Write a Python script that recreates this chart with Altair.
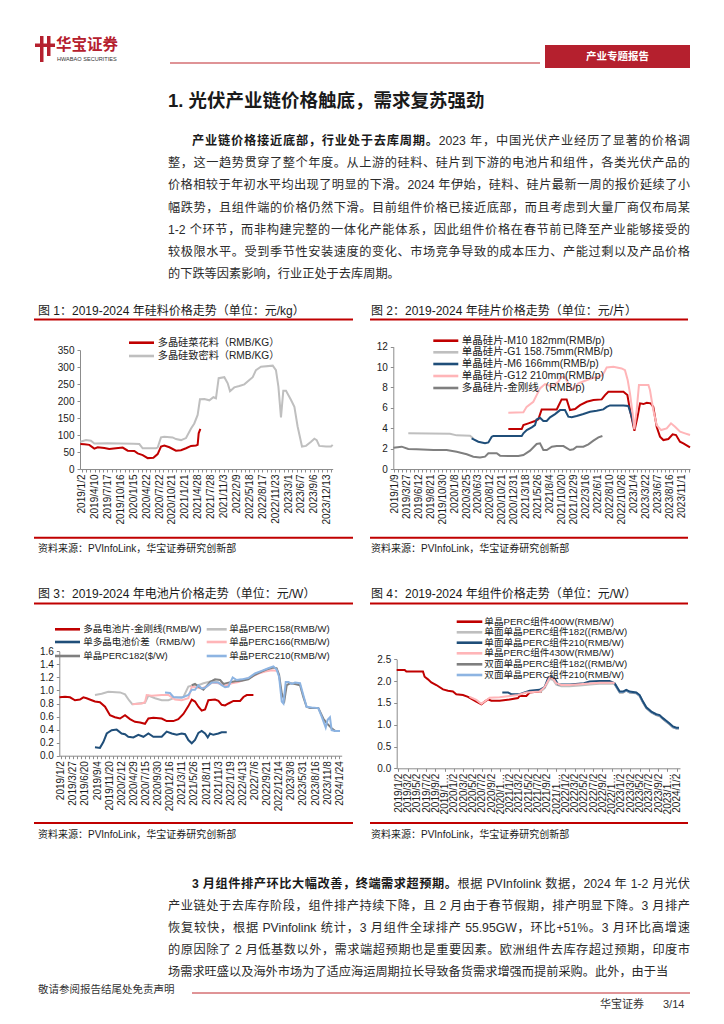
import json
import math
import pandas as pd
import altair as alt

FONT = "Liberation Sans, Noto Sans CJK SC"
AXFONT = "Liberation Sans"
RED = "#C00000"
LGRAY = "#BFBFBF"
DBLUE = "#1F4E79"
PINK = "#FFB5B8"
DGRAY = "#7F7F7F"
LBLUE = "#8DB4E2"
AXC = "#8C8C8C"
INK = "#1A1A1A"
BODY = "#2B2B2B"
BRAND = "#B5202E"

# ---------------- chart 1 : polysilicon ----------------
c1_labels = ["2019/1/2", "2019/4/10", "2019/7/17", "2019/10/16", "2020/1/15", "2020/4/22",
             "2020/7/22", "2020/10/21", "2021/1/21", "2021/4/28", "2021/7/28", "2021/11/3",
             "2022/2/9", "2022/5/18", "2022/8/17", "2022/11/23", "2023/3/1", "2023/6/7",
             "2023/9/6", "2023/12/13"]
c1_cauli_x = [-0.1, 0.21, 0.59, 0.98, 1.24, 1.76, 2.14, 2.66, 3.18, 3.57, 4.08, 4.34, 4.73, 5.12,
              5.56, 5.89, 6.15, 6.41, 6.80, 7.31, 7.70, 8.09, 8.48, 8.86, 8.99, 9.07, 9.20]
c1_cauli_y = [73.5, 72.5, 71, 60, 64, 62, 59, 61, 63, 54, 53, 46, 41, 32,
              33, 44, 66, 69, 64, 54, 55, 61, 68, 69, 71, 105, 118]
c1_dense_x = [-0.1, 0.34, 0.72, 0.98, 2.0, 3.0, 4.0, 4.47, 4.73, 5.12, 5.76, 5.89, 6.15, 6.41,
              7.05, 7.31, 7.70, 8.09, 8.48, 8.73, 8.99, 9.17, 9.51, 9.90, 10.21, 10.41, 10.62,
              11.06, 11.32, 11.50, 11.83, 12.22, 12.61, 13.00, 13.26, 13.51, 13.90, 14.81, 15.06,
              15.25, 15.45, 15.63, 15.84, 16.23, 16.49, 16.74, 17.08, 17.39, 17.78, 18.04, 18.22,
              18.42, 18.94, 19.33, 19.46]
c1_dense_y = [80, 85, 83, 75, 76, 75, 74.5, 73.5, 61, 61, 61, 63, 93, 95,
              93, 88, 85, 91, 119, 134, 159, 205, 206, 202, 211, 208, 267,
              270, 252, 229, 240, 244, 249, 262, 270, 291, 301, 304, 291,
              242, 152, 230, 230, 203, 183, 125, 66, 68, 80, 89, 85,
              68, 66, 66, 71]

# ---------------- chart 2 : wafers ----------------
c2_labels = ["2019/1/9", "2019/3/27", "2019/6/12", "2019/8/21", "2019/10/30", "2020/1/8",
             "2020/3/25", "2020/6/3", "2020/8/12", "2020/10/21", "2020/12/31", "2021/3/18",
             "2021/5/26", "2021/8/4", "2021/10/20", "2021/12/29", "2022/3/16", "2022/6/1",
             "2022/8/10", "2022/10/26", "2023/1/4", "2023/3/22", "2023/6/7", "2023/8/16",
             "2023/11/1"]
c2_m10_x = [9.54, 10.66, 10.80, 11.22, 11.77, 12.05, 12.33, 13.59, 13.73, 14.00, 14.42, 14.70,
            15.12, 15.54, 16.10, 16.66, 17.35, 17.63, 17.91, 19.17, 19.50, 19.72, 20.09, 20.34,
            20.56, 20.84, 21.12, 21.45, 21.67, 21.95, 22.23, 22.51, 22.93, 23.29, 23.57, 23.90,
            24.18, 24.74]
c2_m10_y = [3.92, 3.92, 4.31, 4.48, 4.71, 4.87, 5.85, 5.85, 6.18, 6.83, 6.83, 5.78,
            5.88, 6.27, 6.60, 6.76, 6.83, 7.25, 7.58, 7.58, 7.25, 5.78, 3.76, 5.07,
            6.44, 6.37, 6.50, 6.44, 6.10, 4.15, 3.17, 2.84, 2.94, 3.40, 3.33, 2.68,
            2.52, 2.12]
c2_g1_x = [1.17, 4.66, 5.22, 6.34, 6.61]
c2_g1_y = [3.50, 3.46, 3.30, 3.27, 3.00]
c2_m6_x = [6.47, 7.03, 7.59, 7.87, 8.15, 8.29, 10.66, 10.80, 11.08, 11.50, 11.77, 11.91,
           12.19, 12.47, 12.75, 13.03, 13.45, 13.87, 14.28, 14.56, 14.84, 15.26, 15.82, 16.38,
           16.93, 17.49, 17.77, 18.05, 19.17, 19.58, 19.86, 20.09]
c2_m6_y = [3.00, 2.68, 2.52, 2.60, 3.17, 3.24, 3.24, 3.50, 3.82, 4.08, 4.31, 4.87,
           5.03, 4.71, 4.71, 5.07, 5.39, 5.78, 5.78, 5.13, 5.07, 5.20, 5.39, 5.62,
           5.72, 5.85, 6.10, 6.24, 6.24, 6.18, 5.13, 4.00]
c2_g12_x = [9.54, 10.80, 11.07, 11.63, 11.91, 12.19, 12.61, 13.03, 13.31, 13.72, 14.00, 14.28,
            14.56, 14.84, 15.12, 15.40, 15.96, 16.51, 17.07, 17.41, 17.63, 17.77, 18.33, 19.02,
            19.30, 19.53, 19.72, 19.94, 20.08, 20.28, 20.47, 21.26, 21.39, 21.67, 21.95, 22.32,
            22.79, 23.15, 23.49, 23.91, 24.32, 24.74]
c2_g12_y = [5.52, 5.56, 6.10, 6.60, 7.25, 7.90, 8.33, 8.14, 8.20, 8.56, 9.05, 9.00,
            8.40, 7.81, 8.00, 8.40, 8.66, 8.89, 9.05, 9.20, 9.64, 9.97, 10.03, 9.87,
            9.70, 8.70, 7.40, 5.46, 3.90, 5.80, 8.24, 8.24, 7.75, 5.78, 4.31, 3.82,
            3.99, 4.48, 4.15, 3.66, 3.50, 3.33]
c2_poly_x = [-0.08, 0.62, 1.17, 1.87, 3.27, 4.38, 5.22, 6.06, 6.61, 7.17, 7.59, 7.87, 8.57,
             8.85, 9.54, 10.38, 10.80, 11.36, 11.91, 12.19, 12.47, 12.76, 13.18, 13.59, 14.15,
             14.70, 14.98, 15.26, 15.82, 16.24, 16.66, 17.08, 17.41]
c2_poly_y = [2.09, 2.19, 1.96, 1.93, 1.86, 1.86, 1.70, 1.44, 1.21, 1.14, 1.21, 1.54, 1.54,
             1.31, 1.27, 1.27, 1.37, 1.80, 2.45, 2.52, 1.86, 1.86, 2.19, 2.25, 2.25,
             1.86, 1.93, 2.19, 2.19, 2.42, 2.78, 3.10, 3.24]

# ---------------- chart 3 : cells ----------------
c3_labels = ["2019/1/2", "2019/3/27", "2019/6/20", "2019/9/4", "2019/11/20", "2020/2/12",
             "2020/4/29", "2020/7/15", "2020/9/30", "2020/12/16", "2021/3/11", "2021/5/26",
             "2021/8/11", "2021/11/3", "2022/1/19", "2022/4/13", "2022/7/6", "2022/9/21",
             "2022/12/14", "2023/3/8", "2023/5/31", "2023/8/16", "2023/11/8", "2024/1/24"]
c3_poly_x = [-0.11, 0.36, 0.77, 1.18, 1.59, 1.87, 2.14, 2.56, 2.83, 3.24, 3.66, 4.07, 4.48,
             4.90, 5.31, 5.72, 6.13, 6.55, 6.96, 7.24, 7.65, 8.34, 8.75, 9.30, 9.71, 10.13,
             10.54, 10.82, 11.09, 11.37, 11.64, 11.92, 12.19, 12.74, 13.02, 13.29, 13.57,
             13.85, 14.26, 14.81, 15.09, 15.36, 15.91]
c3_poly_y = [0.895, 0.905, 0.895, 0.85, 0.86, 0.895, 0.88, 0.85, 0.83, 0.82, 0.75, 0.62, 0.59,
             0.57, 0.62, 0.56, 0.52, 0.51, 0.49, 0.57, 0.58, 0.57, 0.53, 0.53, 0.56, 0.64,
             0.76, 0.86, 0.83, 0.75, 0.69, 0.71, 0.85, 0.86, 0.84, 0.78, 0.77,
             0.80, 0.84, 0.84, 0.90, 0.93, 0.93]
c3_spread_x = [2.83, 3.24, 3.52, 3.80, 4.21, 4.62, 5.03, 5.31, 5.58, 6.00, 6.41, 6.83, 7.24,
               7.65, 8.34, 8.75, 9.17, 9.58, 9.99, 10.27, 10.54, 10.82, 11.09, 11.37, 11.64,
               11.92, 12.14, 12.33, 12.60, 13.02, 13.29, 13.71]
c3_spread_y = [0.13, 0.12, 0.21, 0.34, 0.39, 0.40, 0.34, 0.33, 0.29, 0.28, 0.32, 0.29, 0.34,
               0.29, 0.29, 0.37, 0.34, 0.32, 0.34, 0.33, 0.24, 0.19, 0.24, 0.35, 0.38,
               0.34, 0.28, 0.34, 0.32, 0.34, 0.36, 0.36]
c3_p158_x = [2.83, 3.38, 3.93, 4.90, 5.31, 5.64, 5.91, 6.41, 6.96, 7.24, 7.79, 8.34, 8.89,
             9.44, 10.13, 10.54, 10.95, 11.37, 11.78, 12.19, 12.60, 13.02, 13.57]
c3_p158_y = [0.93, 0.95, 0.98, 0.97, 0.94, 0.85, 0.79, 0.80, 0.81, 0.92, 0.88, 0.85, 0.85,
             0.89, 0.90, 1.06, 1.08, 1.08, 1.11, 1.13, 1.15, 1.12, 1.08]
c3_p166_x = [5.91, 6.69, 6.96, 7.10, 7.51, 8.34, 8.89, 9.44, 9.99, 10.54, 10.82, 11.64, 12.05,
             12.46, 13.02, 13.57, 14.12, 14.67, 15.22, 15.77, 16.32, 16.88, 17.43, 17.83]
c3_p166_y = [0.79, 0.80, 0.82, 0.93, 0.92, 0.93, 0.93, 0.86, 0.85, 0.88, 1.06, 1.03, 1.06,
             1.12, 1.11, 1.07, 1.11, 1.13, 1.17, 1.21, 1.26, 1.29, 1.31, 1.30]
c3_p182_x = [10.82, 11.09, 11.37, 11.78, 12.33, 12.74, 13.16, 13.44, 13.85, 14.40, 14.94, 15.49,
             16.04, 16.59, 17.14, 17.56, 17.83, 18.03, 18.25, 18.47, 18.66, 18.94, 19.35, 19.76,
             20.03, 20.30, 20.58, 21.27, 21.68, 21.96, 22.37, 22.65, 23.06]
c3_p182_y = [1.08, 1.10, 1.06, 1.01, 1.13, 1.17, 1.16, 1.10, 1.12, 1.14, 1.15, 1.17,
             1.24, 1.29, 1.33, 1.35, 1.34, 1.24, 0.96, 0.85, 1.08, 1.11, 1.10, 1.08,
             0.90, 0.75, 0.73, 0.73, 0.57, 0.50, 0.42, 0.38, 0.38]
c3_p210_x = [8.61, 9.02, 9.30, 9.99, 10.54, 10.82, 11.09, 11.37, 11.64, 11.92, 12.46, 13.02,
             13.29, 13.57, 13.85, 14.20, 14.53, 14.94, 15.49, 16.04, 16.59, 17.14, 17.56, 17.83,
             18.03, 18.25, 18.39, 18.58, 18.80, 19.08, 19.35, 19.76, 20.03, 20.30, 20.72, 21.27,
             21.55, 21.88, 22.04, 22.23, 22.37, 22.65, 23.06]
c3_p210_y = [0.97, 0.96, 0.90, 0.89, 0.93, 1.01, 1.01, 1.08, 1.03, 1.04, 1.12, 1.12,
             1.08, 1.05, 1.06, 1.20, 1.16, 1.17, 1.19, 1.26, 1.30, 1.34, 1.37, 1.32,
             1.21, 0.83, 0.80, 1.13, 1.13, 1.10, 1.12, 1.11, 0.93, 0.75, 0.74, 0.73,
             0.60, 0.43, 0.55, 0.59, 0.39, 0.38, 0.38]

# ---------------- chart 4 : modules ----------------
c4_labels = ["2019/1/2", "2019/3/2", "2019/5/2", "2019/7/2", "2019/9/2", "2019/1…",
             "2020/1/2", "2020/3/2", "2020/5/2", "2020/7/2", "2020/9/2", "2020/1…",
             "2021/1/2", "2021/3/2", "2021/5/2", "2021/7/2", "2021/9/2", "2021/1…",
             "2022/1/2", "2022/3/2", "2022/5/2", "2022/7/2", "2022/9/2", "2022/1…",
             "2023/1/2", "2023/3/2", "2023/5/2", "2023/7/2", "2023/9/2", "2023/1…",
             "2024/1/2"]
c4_400_x = [-0.17, 0.69, 0.87, 2.66, 2.84, 3.20, 3.56, 4.10, 4.82, 5.36, 5.89, 6.25, 6.97,
            7.51, 8.41, 8.95, 9.31, 9.67, 10.03, 10.92, 12.00, 12.90, 13.08, 13.80, 14.16,
            15.23, 15.48]
c4_400_y = [2.255, 2.255, 2.22, 2.22, 2.10, 2.04, 1.97, 1.91, 1.81, 1.78, 1.76, 1.70, 1.68,
            1.64, 1.53, 1.47, 1.53, 1.58, 1.55, 1.55, 1.58, 1.61, 1.66, 1.66, 1.74,
            1.76, 1.76]
c4_m182_x = [15.23, 15.77, 16.31, 16.67, 17.03, 17.57, 18.47, 19.54, 20.98, 21.70, 23.14, 23.50]
c4_m182_y = [1.74, 1.84, 2.05, 2.03, 1.92, 1.88, 1.88, 1.90, 1.93, 1.94, 1.94, 1.90]
c4_m210_x = [11.21, 11.82, 12.18, 13.08, 13.61, 14.16, 15.23, 15.77, 16.13, 16.48, 16.85, 17.21,
             18.50, 20.00, 20.62, 21.70, 22.78, 23.32, 23.86, 24.22, 24.57, 24.93, 25.65, 26.01,
             26.37, 26.73, 27.27, 27.80, 28.16, 28.52, 28.88, 29.24, 29.60, 29.96, 30.25]
c4_m210_y = [1.74, 1.74, 1.70, 1.70, 1.74, 1.78, 1.80, 1.86, 2.06, 2.10, 2.06, 1.93,
             1.92, 1.95, 1.99, 2.00, 2.00, 1.95, 1.76, 1.76, 1.80, 1.76, 1.74, 1.68,
             1.53, 1.40, 1.30, 1.24, 1.22, 1.15, 1.09, 1.03, 0.96, 0.93, 0.93]
c4_430_x = [7.69, 8.41, 8.95, 9.49, 9.85, 10.92, 12.00, 12.90, 13.80, 15.23, 15.77, 16.31,
            16.67, 17.03, 17.57, 18.47, 19.54, 20.98, 21.70, 23.14, 23.32]
c4_430_y = [1.64, 1.57, 1.48, 1.56, 1.62, 1.63, 1.66, 1.68, 1.74, 1.76, 1.86, 2.08,
            2.06, 1.95, 1.91, 1.91, 1.93, 1.95, 1.96, 1.96, 1.95]
c4_b182_x = [23.32, 23.86, 24.22, 24.57, 24.93, 25.65, 26.01, 26.37, 26.73, 27.27, 27.80,
             28.16, 28.52, 28.88, 29.24, 29.60, 29.96, 30.25]
c4_b182_y = [1.93, 1.74, 1.74, 1.78, 1.74, 1.72, 1.66, 1.51, 1.38, 1.28, 1.22,
             1.20, 1.13, 1.07, 1.01, 0.94, 0.91, 0.91]
c4_b210_x = [23.32, 23.86, 24.22, 24.57, 24.93, 25.65, 26.01, 26.37, 26.73, 27.27, 27.80,
             28.16, 28.52, 28.88, 29.24, 29.60, 29.96, 30.25]
c4_b210_y = [1.94, 1.75, 1.75, 1.79, 1.75, 1.73, 1.67, 1.52, 1.39, 1.29, 1.23,
             1.21, 1.14, 1.08, 1.02, 0.95, 0.92, 0.92]

# ---------------- page text ----------------
header_brand = "华宝证券"
header_brand_en = "HWABAO SECURITIES"
header_tag = "产业专题报告"
section_title = "1. 光伏产业链价格触底，需求复苏强劲"
para1_bold = "产业链价格接近底部，行业处于去库周期。"
para1_lines = [
    "2023 年，中国光伏产业经历了显著的价格调",
    "整，这一趋势贯穿了整个年度。从上游的硅料、硅片到下游的电池片和组件，各类光伏产品的",
    "价格相较于年初水平均出现了明显的下滑。2024 年伊始，硅料、硅片最新一周的报价延续了小",
    "幅跌势，且组件端的价格仍然下滑。目前组件价格已接近底部，而且考虑到大量厂商仅布局某",
    "1-2 个环节，而非构建完整的一体化产能体系，因此组件价格在春节前已降至产业能够接受的",
    "较极限水平。受到季节性安装速度的变化、市场竞争导致的成本压力、产能过剩以及产品价格",
    "的下跌等因素影响，行业正处于去库周期。",
]
para2_bold = "3 月组件排产环比大幅改善，终端需求超预期。"
para2_lines = [
    "根据 PVInfolink 数据，2024 年 1-2 月光伏",
    "产业链处于去库存阶段，组件排产持续下降，且 2 月由于春节假期，排产明显下降。3 月排产",
    "恢复较快，根据 PVinfolink 统计，3 月组件全球排产 55.95GW，环比+51%。3 月环比高增速",
    "的原因除了 2 月低基数以外，需求端超预期也是重要因素。欧洲组件去库存超过预期，印度市",
    "场需求旺盛以及海外市场为了适应海运周期拉长导致备货需求增强而提前采购。此外，由于当",
]
fig_titles = ["图 1：2019-2024 年硅料价格走势（单位：元/kg）",
              "图 2：2019-2024 年硅片价格走势（单位：元/片）",
              "图 3：2019-2024 年电池片价格走势（单位：元/W）",
              "图 4：2019-2024 年组件价格走势（单位：元/W）"]
source_note = "资料来源：PVInfoLink，华宝证券研究创新部"
footer_left = "敬请参阅报告结尾处免责声明"
footer_right = "华宝证券"
footer_page = "3/14"

# whole page is one view; local = page - 8
O = 8
W_VIEW = 708
H_VIEW = 996

dummy = pd.DataFrame({"k": [0]})


def text_at(s, x, y, size, weight="normal", color=INK, align="left", font=FONT):
    return alt.Chart(dummy).mark_text(text=s, align=align, baseline="middle", fontSize=size,
                                      fontWeight=weight, color=color, font=font).encode(
        x=alt.value(x - O), y=alt.value(y - O))


def rule_at(x1, x2, y, color=RED, width=1.0):
    return alt.Chart(dummy).mark_rule(color=color, strokeWidth=width).encode(
        x=alt.value(x1 - O), x2=alt.value(x2 - O), y=alt.value(y - O))


def rect_at(x1, x2, y1, y2, color):
    return alt.Chart(dummy).mark_rect(color=color).encode(
        x=alt.value(x1 - O), x2=alt.value(x2 - O), y=alt.value(y1 - O), y2=alt.value(y2 - O))


# ---- justified paragraph layout ----
ASCII_W = {" ": .278, ".": .278, ",": .278, "-": .333, "+": .584, "%": .889, "/": .278,
           "I": .278, "P": .667, "V": .667, "G": .778, "W": .944, "f": .278, "i": .222,
           "l": .222, "k": .5, "t": .278, "r": .333, "m": .833}


def tokens_of(s):
    out, buf = [], ""
    for ch in s:
        if ord(ch) < 128:
            buf += ch
        else:
            if buf:
                out.append(buf)
                buf = ""
            out.append(ch)
    if buf:
        out.append(buf)
    return out


def tok_w(t, size):
    if len(t) == 1 and ord(t) >= 128:
        return size
    return sum(ASCII_W.get(c, .556) for c in t) * size


def layout_line(segments, x0, x1, y, size, justify=True):
    toks = []
    for text, wt in segments:
        for t in tokens_of(text):
            toks.append((t, wt))
    widths = [tok_w(t, size) for t, _ in toks]
    gap = (x1 - x0 - sum(widths)) / (len(toks) - 1) if (justify and len(toks) > 1) else 0
    rows, x = [], x0
    for (t, wt), w in zip(toks, widths):
        lead = len(t) - len(t.lstrip(" "))
        s = t.strip(" ")
        if s:
            rows.append({"t": s, "x": x + lead * ASCII_W[" "] * size, "y": y, "wt": wt})
        x += w + gap
    return rows


def para_rows(bold, lines, y0, step, size=12.2, x_left=168, x_indent=192, x_right=690):
    rows = []
    for k, line in enumerate(lines):
        y = y0 + step * k - O
        last = k == len(lines) - 1
        if k == 0:
            segs = [(bold, "bold"), (line, "normal")]
            rows += layout_line(segs, x_indent - O, x_right - O, y, size, justify=not last)
        else:
            rows += layout_line([(line, "normal")], x_left - O, x_right - O, y, size,
                                justify=not last)
    return rows


def para_layers(rows, size=12.2):
    out = []
    for wt, col in [("normal", BODY), ("bold", INK)]:
        df = pd.DataFrame([r for r in rows if r["wt"] == wt])
        out.append(alt.Chart(df).mark_text(align="left", baseline="middle", fontSize=size,
                                           fontWeight=wt, color=col, font=FONT).encode(
            x=alt.X("x:Q", scale=None, axis=None), y=alt.Y("y:Q", scale=None, axis=None),
            text="t:N"))
    return out


# ---- chart panels: each placed by its own scale ranges (page px) ----
def panel(labels, dom, yvals, yfmt, minor, series, legend, px0, px1, py0, py1, legsize=9.8):
    lo, hi = dom
    start = math.ceil(lo * minor - 1e-9)
    end = math.floor(hi * minor + 1e-9)
    tvals = [round(k / minor, 4) for k in range(start, end + 1)]
    lab = json.dumps(labels, ensure_ascii=False)
    expr = (f"abs(datum.value - round(datum.value)) < 0.01 && round(datum.value) >= 0 && "
            f"round(datum.value) < {len(labels)} ? {lab}[round(datum.value)] : ''")
    xaxis = alt.Axis(values=tvals, labelExpr=expr, labelAngle=-90, labelFontSize=10,
                     labelFont=AXFONT, labelColor=INK, labelOverlap=False, labelFlush=False,
                     labelPadding=2, tickSize=3, tickColor=AXC, domainColor=AXC, grid=False,
                     title=None, orient="bottom", offset=(py1 - O) - H_VIEW)
    yaxis = alt.Axis(values=yvals, format=yfmt, labelFontSize=10, labelFont=AXFONT,
                     labelColor=INK, labelPadding=3, tickSize=3, tickColor=AXC,
                     domainColor=AXC, grid=False, title=None, orient="left",
                     offset=-(px0 - O))
    xs = alt.Scale(domain=[lo, hi], range=[px0 - O, px1 - O], nice=False, zero=False)
    ys = alt.Scale(domain=[yvals[0], yvals[-1]], range=[py1 - O, py0 - O], nice=False)
    layers = []
    for k, (xv, yv, color) in enumerate(series):
        df = pd.DataFrame({"pos": xv, "val": yv})
        layers.append(alt.Chart(df).mark_line(color=color, strokeWidth=2).encode(
            x=alt.X("pos:Q", scale=xs, axis=xaxis if k == 0 else None),
            y=alt.Y("val:Q", scale=ys, axis=yaxis if k == 0 else None)))
    for name, color, lx1, lx2, ly, tx in legend:
        layers.append(rule_at(lx1, lx2, ly, color=color, width=2.6))
        layers.append(text_at(name, tx, ly, legsize, color="#222"))
    return layers


c1_layers = panel(c1_labels, (-0.13, 19.46), list(range(0, 351, 50)), "d", 3,
                  [(c1_cauli_x, c1_cauli_y, RED), (c1_dense_x, c1_dense_y, LGRAY)],
                  [("多晶硅菜花料（RMB/KG）", RED, 129, 154, 342.7, 157.7),
                   ("多晶硅致密料（RMB/KG）", LGRAY, 129, 154, 356, 157.7)],
                  80, 332.7, 350, 469, legsize=10.2)

c2_leg_y = [340.7, 352.3, 364, 376, 388]
c2_leg = [("单晶硅片-M10 182mm(RMB/p)", RED), ("单晶硅片-G1 158.75mm(RMB/p)", LGRAY),
          ("单晶硅片-M6 166mm(RMB/p)", DBLUE), ("单晶硅片-G12 210mm(RMB/p)", PINK),
          ("多晶硅片-金刚线（RMB/p)", DGRAY)]
c2_layers = panel(c2_labels, (-0.084, 24.74), list(range(0, 13, 2)), "d", 3,
                  [(c2_m10_x, c2_m10_y, RED), (c2_g1_x, c2_g1_y, LGRAY),
                   (c2_m6_x, c2_m6_y, DBLUE), (c2_g12_x, c2_g12_y, PINK),
                   (c2_poly_x, c2_poly_y, DGRAY)],
                  [(n, c, 433.3, 458.3, yy, 461.7) for (n, c), yy in zip(c2_leg, c2_leg_y)],
                  393.3, 690, 346.7, 469, legsize=10.5)

c3_leg = [("多晶电池片-金刚线(RMB/W)", RED, 55, 80, 629.3, 83.3),
          ("单晶PERC158(RMB/W)", LGRAY, 206.7, 226.7, 629.3, 229.3),
          ("单多晶电池价差（RMB/W)", DBLUE, 55, 80, 642, 83.3),
          ("单晶PERC166(RMB/W)", PINK, 206.7, 226.7, 642, 229.3),
          ("单晶PERC182($/W)", DGRAY, 55, 80, 656, 83.3),
          ("单晶PERC210(RMB/W)", LBLUE, 206.7, 226.7, 656, 229.3)]
c3_layers = panel(c3_labels, (-0.116, 23.2), [round(0.2 * k, 1) for k in range(9)], ".1f", 3,
                  [(c3_poly_x, c3_poly_y, RED), (c3_p158_x, c3_p158_y, LGRAY),
                   (c3_spread_x, c3_spread_y, DBLUE), (c3_p166_x, c3_p166_y, PINK),
                   (c3_p182_x, c3_p182_y, DGRAY), (c3_p210_x, c3_p210_y, LBLUE)],
                  c3_leg, 59.3, 341.7, 651.3, 755.7, legsize=9.5)

c4_leg_y = [621.7, 632.3, 642.7, 653.3, 664.3, 675]
c4_leg = [("单晶PERC组件400W(RMB/W)", RED), ("单面单晶PERC组件182((RMB/W)", LGRAY),
          ("单面单晶PERC组件210(RMB/W)", DBLUE), ("单晶PERC组件430W(RMB/W)", PINK),
          ("双面单晶PERC组件182((RMB/W)", DGRAY), ("双面单晶PERC组件210(RMB/W)", LBLUE)]
c4_layers = panel(c4_labels, (-0.17, 30.36), [0.0, 0.5, 1.0, 1.5, 2.0, 2.5], ".1f", 1,
                  [(c4_400_x, c4_400_y, RED), (c4_m182_x, c4_m182_y, LGRAY),
                   (c4_b182_x, c4_b182_y, DGRAY), (c4_b210_x, c4_b210_y, LBLUE),
                   (c4_m210_x, c4_m210_y, DBLUE), (c4_430_x, c4_430_y, PINK)],
                  [(n, c, 456.7, 482.3, yy, 484.3) for (n, c), yy in zip(c4_leg, c4_leg_y)],
                  396.7, 680, 659.3, 768.3, legsize=9.6)

page_layers = [
    # header
    rect_at(40, 43.5, 36, 62, BRAND),
    rect_at(47, 50.5, 36, 56, BRAND),
    rect_at(35, 55, 43.5, 47, BRAND),
    text_at(header_brand, 56, 45, 15.5, weight="bold", color=BRAND),
    text_at(header_brand_en, 57, 58.5, 5.6, color="#333", font=AXFONT),
    rule_at(170, 540, 63, color="#C0282F", width=1.2),
    rect_at(545, 690, 45, 68, BRAND),
    text_at(header_tag, 617.5, 56.5, 10.5, weight="bold", color="white", align="center"),
    text_at(section_title, 168, 101, 18.5, weight="bold"),
    # figure frames
    text_at(fig_titles[0], 38, 311, 12),
    text_at(fig_titles[1], 371, 311, 12),
    rule_at(34, 353, 319.5, width=2),
    rule_at(370, 688, 319.5, width=2),
    rule_at(34, 353, 537.7, width=2),
    rule_at(370, 688, 537.7, width=2),
    text_at(source_note, 38, 549, 10),
    text_at(source_note, 371, 549, 10),
    text_at(fig_titles[2], 38, 594, 12),
    text_at(fig_titles[3], 371, 594, 12),
    rule_at(34, 353, 603.5, width=2),
    rule_at(370, 688, 603.5, width=2),
    rule_at(34, 353, 823, width=2),
    rule_at(370, 688, 823, width=2),
    text_at(source_note, 38, 834.5, 10),
    text_at(source_note, 371, 834.5, 10),
    # footer
    text_at(footer_left, 38, 990, 10.5, color="#333"),
    rule_at(192, 690, 993, color="#C0282F", width=1),
    text_at(footer_right, 600, 1005, 11, color="#333"),
    text_at(footer_page, 663, 1005, 11, color="#333"),
]
page_layers += para_layers(para_rows(para1_bold, para1_lines, 141, 22.17))
page_layers += para_layers(para_rows(para2_bold, para2_lines, 884, 22))

all_layers = c1_layers + c2_layers + c3_layers + c4_layers + page_layers

chart = alt.layer(*all_layers).resolve_scale(
    x="independent", y="independent"
).properties(width=W_VIEW, height=H_VIEW, padding=0, background="white"
             ).configure_view(stroke=None)

chart.save("out.html", embed_options={"renderer": "svg", "actions": False})
